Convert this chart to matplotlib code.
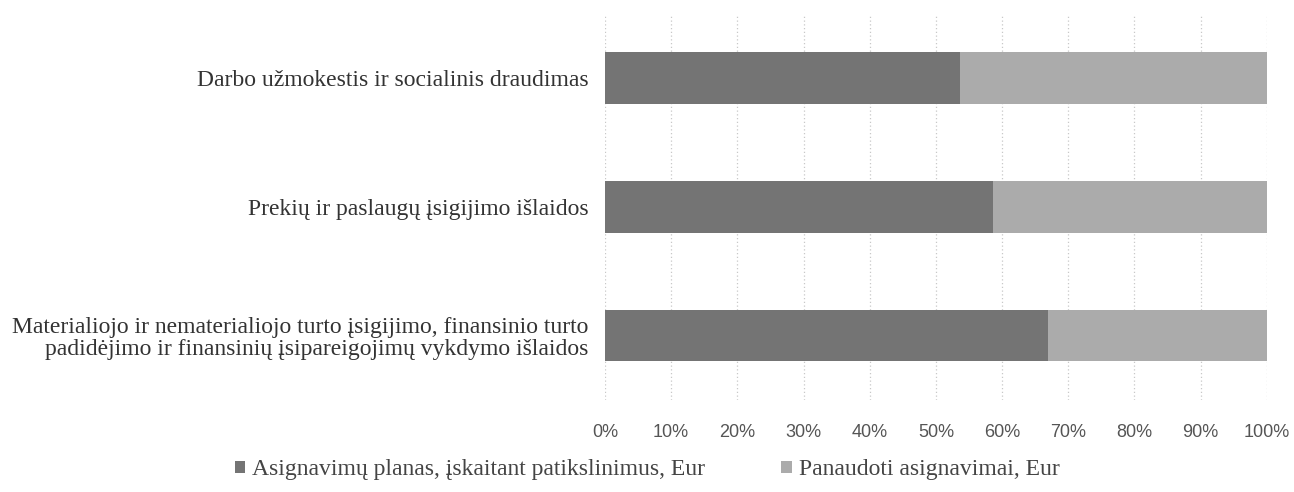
import numpy as np
import matplotlib
matplotlib.use("Agg")
import matplotlib.pyplot as plt
from matplotlib.ticker import PercentFormatter

categories = ["Darbo užmokestis ir socialinis draudimas",
              "Prekių ir paslaugų įsigijimo išlaidos",
              "Materialiojo ir nematerialiojo turto įsigijimo, finansinio turto\npadidėjimo ir finansinių įsipareigojimų vykdymo išlaidos"]
series_names = ["Asignavimų planas, įskaitant patikslinimus, Eur", "Panaudoti asignavimai, Eur"]
plan_share = [53.6, 58.6, 67.0]
used_share = [46.4, 41.4, 33.0]
xticks = [0, 10, 20, 30, 40, 50, 60, 70, 80, 90, 100]

fig = plt.figure(figsize=(12.94, 4.92), dpi=100)
ax = fig.add_axes([0.4675, 0.187, 0.5115, 0.785])

y = np.arange(len(categories))
ax.barh(y, plan_share, height=0.4, color="#747474", label=series_names[0], zorder=2)
ax.barh(y, used_share, left=plan_share, height=0.4, color="#ababab", label=series_names[1], zorder=2)

ax.set_xlim(0, 100)
ax.set_ylim(len(categories) - 0.5, -0.5)
ax.set_xticks(xticks)
ax.xaxis.set_major_formatter(PercentFormatter(decimals=0))
ax.set_yticks(y)
ax.set_yticklabels(categories, family="Liberation Serif", fontsize=17, color="#333333",
                   linespacing=1.05)
for lab in ax.get_xticklabels():
    lab.set_family("Liberation Sans")
    lab.set_fontsize(13)
    lab.set_color("#555555")
ax.tick_params(length=0, pad=12)
ax.tick_params(axis="x", pad=17)
ax.grid(axis="x", color="#c8c8c8", linewidth=0.9, linestyle=(0, (1, 2)), zorder=0)
for s in ax.spines.values():
    s.set_visible(False)

leg = fig.legend(loc="center", bbox_to_anchor=(0.5, 0.045), ncol=2, frameon=False,
                 prop={"family": "Liberation Serif", "size": 17}, handlelength=0.45,
                 handleheight=0.45, handletextpad=0.3, columnspacing=3.2)
for t in leg.get_texts():
    t.set_color("#444444")

fig.savefig("out.png", dpi=100)
